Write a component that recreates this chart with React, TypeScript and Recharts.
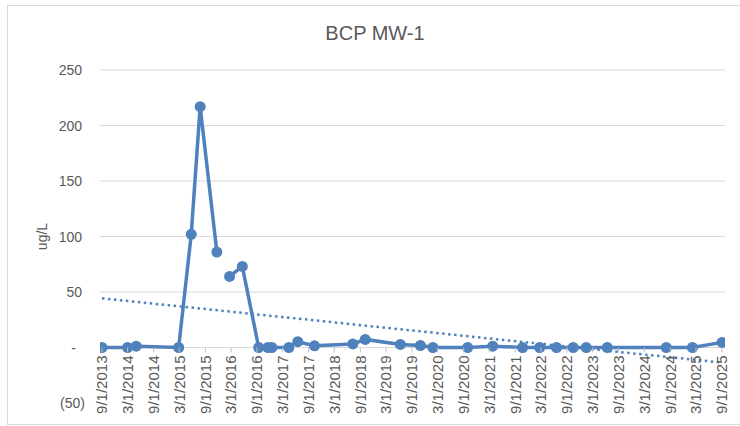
import React from "react";
import { LineChart, Line, XAxis, YAxis, CartesianGrid } from "recharts";

// sample dates and BCP results (ug/L); null = no result, leaves a gap in the line
const sampleDates = [
  "2013-09-01", "2014-03-01", "2014-05-01", "2015-02-25", "2015-05-25", "2015-07-27",
  "2015-11-22", "2016-01-05", "2016-02-20", "2016-05-20", "2016-09-13", "2016-11-17",
  "2016-12-15", "2017-04-14", "2017-06-16", "2017-10-12", "2018-07-10", "2018-10-06",
  "2019-06-11", "2019-10-31", "2020-01-27", "2020-09-29", "2021-03-25", "2021-10-22",
  "2022-02-20", "2022-06-19", "2022-10-15", "2023-01-15", "2023-06-13", "2024-08-03",
  "2025-02-04", "2025-09-01",
];
const bcpValues = [
  0, 0, 1.2, 0, 102, 217,
  86, null, 64, 73, 0, 0,
  0, 0, 5.2, 1.5, 3.2, 7.3,
  2.8, 1.8, 0, 0, 1.2, 0,
  0, 0, 0, 0, 0, 0,
  0, 4.6,
];

// linear trendline as drawn in the sheet (end points)
const trendDates = ["2013-09-01", "2025-09-01"];
const trendValues = [44.3, -13.6];

const xTickLabels = [
  "9/1/2013", "3/1/2014", "9/1/2014", "3/1/2015", "9/1/2015", "3/1/2016", "9/1/2016",
  "3/1/2017", "9/1/2017", "3/1/2018", "9/1/2018", "3/1/2019", "9/1/2019", "3/1/2020",
  "9/1/2020", "3/1/2021", "9/1/2021", "3/1/2022", "9/1/2022", "3/1/2023", "9/1/2023",
  "3/1/2024", "9/1/2024", "3/1/2025", "9/1/2025",
];
const yTicks = [-50, 0, 50, 100, 150, 200, 250];
const gridValues = [0, 50, 100, 150, 200, 250];

const BLUE = "#4f81bd";
const TEXT = "#595959";
const FONT = "'Liberation Sans', Arial, sans-serif";
const DAY = 86400000;

const iso = (s: string) => Date.parse(s + "T00:00:00Z");
const usDate = (s: string) => {
  const [m, d, y] = s.split("/").map(Number);
  return Date.UTC(y, m - 1, d);
};

const xTicks = xTickLabels.map(usDate);
const labelByTime: Record<number, string> = {};
xTickLabels.forEach((l, i) => (labelByTime[xTicks[i]] = l));

const seriesData = sampleDates.map((d, i) => ({ t: iso(d), bcp: bcpValues[i] }));
const trendData = trendDates.map((d, i) => ({ t: iso(d), trend: trendValues[i] }));

// x labels hang from the zero line, not from the bottom of the plot
const ZERO_OFFSET = 55.5;

const XTick = (props: any) => {
  const { x, y, payload } = props;
  const y0 = y - ZERO_OFFSET;
  return (
    <g>
      <line x1={x} x2={x} y1={y0} y2={y0 + 5} stroke="#bfbfbf" strokeWidth={1} />
      <text
        x={x}
        y={y0 + 8}
        dy="0.36em"
        textAnchor="end"
        transform={`rotate(-90, ${x}, ${y0 + 8})`}
        fill={TEXT}
        fontSize={15}
        fontFamily={FONT}
      >
        {labelByTime[payload.value]}
      </text>
    </g>
  );
};

const YTick = (props: any) => {
  const { x, y, payload } = props;
  const v = payload.value;
  let label = String(v);
  let dx = 0;
  if (v === 0) {
    label = "-";
    dx = -6;
  } else if (v < 0) {
    label = `(${Math.abs(v)})`;
    dx = 3;
  }
  return (
    <text x={x + dx} y={y} dy="0.36em" textAnchor="end" fill={TEXT} fontSize={14} fontFamily={FONT}>
      {label}
    </text>
  );
};

export default function App() {
  return (
    <div style={{ position: "absolute", left: 0, top: 0, width: 740, height: 426, background: "#fff" }}>
      <div
        style={{
          position: "absolute",
          left: 7,
          top: 5,
          width: 760,
          height: 418,
          border: "1px solid #d9d9d9",
        }}
      />
      <div
        style={{
          position: "absolute",
          left: 0,
          top: 22,
          width: 750,
          textAlign: "center",
          fontFamily: FONT,
          fontSize: 20,
          color: TEXT,
        }}
      >
        BCP MW-1
      </div>
      <div style={{ position: "absolute", left: 0, top: 0 }}>
        <LineChart width={740} height={426} margin={{ top: 70, right: 15, bottom: 0, left: 0 }}>
          <CartesianGrid horizontal vertical={false} horizontalValues={gridValues} stroke="#d9d9d9" strokeWidth={1} />
          <XAxis
            dataKey="t"
            type="number"
            domain={[xTicks[0] - 14 * DAY, xTicks[xTicks.length - 1] + 21 * DAY]}
            ticks={xTicks}
            interval={0}
            allowDataOverflow
            height={23}
            tickSize={0}
            tickMargin={0}
            axisLine={false}
            tickLine={false}
            tick={<XTick />}
          />
          <YAxis
            type="number"
            domain={[-50, 250]}
            ticks={yTicks}
            interval={0}
            width={100}
            tickSize={0}
            tickMargin={18}
            axisLine={false}
            tickLine={false}
            tick={<YTick />}
            label={{
              content: (p: any) => {
                const vb = p.viewBox;
                const cy = vb.y + vb.height / 2;
                return (
                  <text
                    x={42}
                    y={cy}
                    dy="0.36em"
                    textAnchor="middle"
                    transform={`rotate(-90, 42, ${cy})`}
                    fill={TEXT}
                    fontSize={14}
                    fontFamily={FONT}
                  >
                    ug/L
                  </text>
                );
              },
            }}
          />
          <Line
            data={trendData}
            dataKey="trend"
            type="linear"
            stroke={BLUE}
            strokeWidth={2.5}
            strokeDasharray="2.5 3.5"
            dot={false}
            activeDot={false}
            isAnimationActive={false}
          />
          <Line
            data={seriesData}
            dataKey="bcp"
            type="linear"
            stroke={BLUE}
            strokeWidth={3.5}
            connectNulls={false}
            dot={{ r: 5.5, fill: BLUE, stroke: BLUE, strokeWidth: 0 }}
            activeDot={false}
            isAnimationActive={false}
          />
        </LineChart>
      </div>
    </div>
  );
}
